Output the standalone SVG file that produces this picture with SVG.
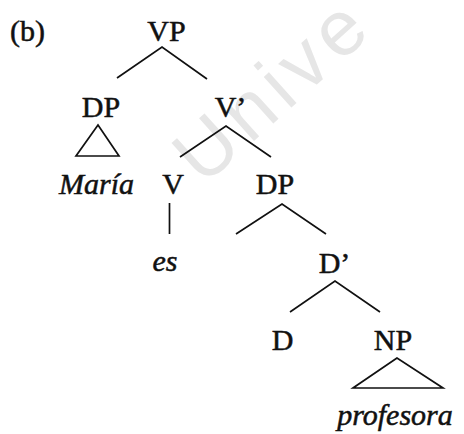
<svg xmlns="http://www.w3.org/2000/svg" width="464" height="434" viewBox="0 0 464 434">
<style>
.lbl{font-family:"Liberation Serif","Times New Roman",serif;font-size:30px;fill:#111;stroke:#111;stroke-width:0.5;text-anchor:middle}
.it{font-style:italic}
.edge{stroke:#111;stroke-width:1.7;fill:none;stroke-linejoin:miter}
.wm{font-family:"Liberation Sans",Arial,sans-serif;font-size:78px;fill:#e6e6e6;letter-spacing:7px}
</style>
<rect width="464" height="434" fill="#fff"/>
<text class="wm" transform="translate(203,187) rotate(-42)">Unive</text>
<text class="lbl" x="27.5" y="41">(b)</text>
<g id="vp"><text class="lbl" x="166.5" y="41">VP</text></g>
<g id="dp1"><text class="lbl" x="101" y="117">DP</text></g>
<g id="vbar"><text class="lbl" x="230.5" y="117">V’</text></g>
<g id="maria"><text class="lbl it" x="96.5" y="194">María</text></g>
<g id="v"><text class="lbl" x="173" y="194">V</text></g>
<g id="dp2"><text class="lbl" x="275" y="194">DP</text></g>
<g id="es"><text class="lbl it" x="165" y="271">es</text></g>
<g id="dbar"><text class="lbl" x="334.5" y="273">D’</text></g>
<g id="d"><text class="lbl" x="282.5" y="350">D</text></g>
<g id="np"><text class="lbl" x="393" y="350">NP</text></g>
<g id="profesora"><text class="lbl it" x="395" y="425">profesora</text></g>
<g id="connectors">
<polyline class="edge" points="117,78 162,47 207,79"/>
<polygon class="edge" points="98,125 76,156 119,156"/>
<polyline class="edge" points="180,157 226,126 271,157"/>
<line class="edge" x1="169.5" y1="203" x2="169.5" y2="234"/>
<polyline class="edge" points="236,234 282,204 326,234"/>
<polyline class="edge" points="290,312 335,281 380,312"/>
<polygon class="edge" points="397,358 353,388 443,388"/>
</g>
</svg>
